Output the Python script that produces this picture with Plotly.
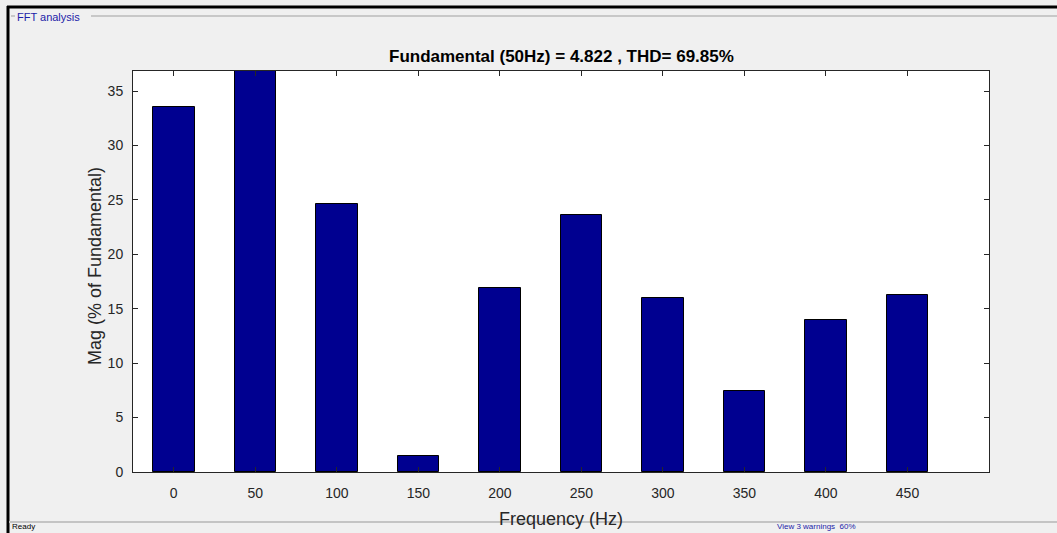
import plotly.graph_objects as go

freqs = [0, 50, 100, 150, 200, 250, 300, 350, 400, 450]
mags = [33.5, 100.0, 24.6, 1.5, 16.9, 23.6, 16.0, 7.45, 14.0, 16.3]
ytick_vals = [0, 5, 10, 15, 20, 25, 30, 35]
title_text = "Fundamental (50Hz) = 4.822 , THD= 69.85%"

W, H = 1057, 533
ML, MR, MT, MB = 133, 68, 71, 61
FONT = "Liberation Sans, Arial, Helvetica, sans-serif"

fig = go.Figure()
fig.add_trace(go.Bar(
    x=freqs, y=mags, width=25.5,
    marker=dict(color="#000090", line=dict(color="#000000", width=1)),
    hoverinfo="x+y",
))

def px_to_paper_x(px):
    return (px - ML) / (W - ML - MR)

def px_to_paper_y(py):
    return (H - MB - py) / (H - MT - MB)

fig.update_layout(
    width=W, height=H,
    margin=dict(l=ML, r=MR, t=MT, b=MB),
    paper_bgcolor="#f0f0f0",
    plot_bgcolor="#ffffff",
    showlegend=False,
    bargap=0,
    font=dict(family=FONT, size=14, color="#262626"),
    xaxis=dict(
        range=[-25, 500], tickvals=freqs, ticktext=[str(f) for f in freqs],
        ticks="inside", ticklen=5, tickcolor="#262626",
        showline=True, linecolor="#262626", linewidth=1, mirror="ticks",
        showgrid=False, zeroline=False, ticklabelstandoff=8,
        tickfont=dict(size=14, color="#262626"),
    ),
    yaxis=dict(
        range=[0, 36.85], tickvals=ytick_vals,
        ticks="inside", ticklen=5, tickcolor="#262626",
        showline=True, linecolor="#262626", linewidth=1, mirror="ticks",
        showgrid=False, zeroline=False, ticklabelstandoff=6,
        tickfont=dict(size=14, color="#262626"),
    ),
)

ann = []
ann.append(dict(text="<b>" + title_text + "</b>", xref="paper", yref="paper",
                x=px_to_paper_x(561), y=px_to_paper_y(56), xanchor="center", yanchor="middle",
                showarrow=False, font=dict(family=FONT, size=17, color="#000000")))
ann.append(dict(text="Frequency (Hz)", xref="paper", yref="paper",
                x=px_to_paper_x(561), y=px_to_paper_y(519), xanchor="center", yanchor="middle",
                showarrow=False, font=dict(family=FONT, size=18, color="#262626")))
ann.append(dict(text="Mag (% of Fundamental)", xref="paper", yref="paper", textangle=-90,
                x=px_to_paper_x(95), y=px_to_paper_y(266), xanchor="center", yanchor="middle",
                showarrow=False, font=dict(family=FONT, size=18, color="#262626")))
ann.append(dict(text="FFT analysis", xref="paper", yref="paper",
                x=px_to_paper_x(15), y=px_to_paper_y(17), xanchor="left", yanchor="middle",
                showarrow=False, font=dict(family=FONT, size=11, color="#1c1ca8")))
ann.append(dict(text="Ready", xref="paper", yref="paper",
                x=px_to_paper_x(10), y=px_to_paper_y(533), xanchor="left", yanchor="bottom",
                showarrow=False, font=dict(family=FONT, size=8, color="#000000")))
ann.append(dict(text="View 3 warnings  60%", xref="paper", yref="paper",
                x=px_to_paper_x(775), y=px_to_paper_y(533), xanchor="left", yanchor="bottom",
                showarrow=False, font=dict(family=FONT, size=8, color="#1c1ca8")))
fig.update_layout(annotations=ann)

shapes = []
# window black borders
shapes.append(dict(type="line", xref="paper", yref="paper",
                   x0=px_to_paper_x(7), x1=px_to_paper_x(W + 2), y0=px_to_paper_y(7), y1=px_to_paper_y(7),
                   line=dict(color="#000000", width=3)))
shapes.append(dict(type="line", xref="paper", yref="paper",
                   x0=px_to_paper_x(8), x1=px_to_paper_x(8), y0=px_to_paper_y(6), y1=px_to_paper_y(H + 2),
                   line=dict(color="#000000", width=3)))
# group box line
shapes.append(dict(type="line", xref="paper", yref="paper",
                   x0=px_to_paper_x(11), x1=px_to_paper_x(15), y0=px_to_paper_y(16), y1=px_to_paper_y(16),
                   line=dict(color="#a0a0a0", width=1)))
shapes.append(dict(type="line", xref="paper", yref="paper",
                   x0=px_to_paper_x(91), x1=px_to_paper_x(W + 2), y0=px_to_paper_y(16), y1=px_to_paper_y(16),
                   line=dict(color="#a0a0a0", width=1)))
# status bar separator
shapes.append(dict(type="line", xref="paper", yref="paper",
                   x0=px_to_paper_x(9), x1=px_to_paper_x(W + 2), y0=px_to_paper_y(522), y1=px_to_paper_y(522),
                   line=dict(color="#c4c4c4", width=2)))
fig.update_layout(shapes=shapes)

fig.write_html("out.html")
